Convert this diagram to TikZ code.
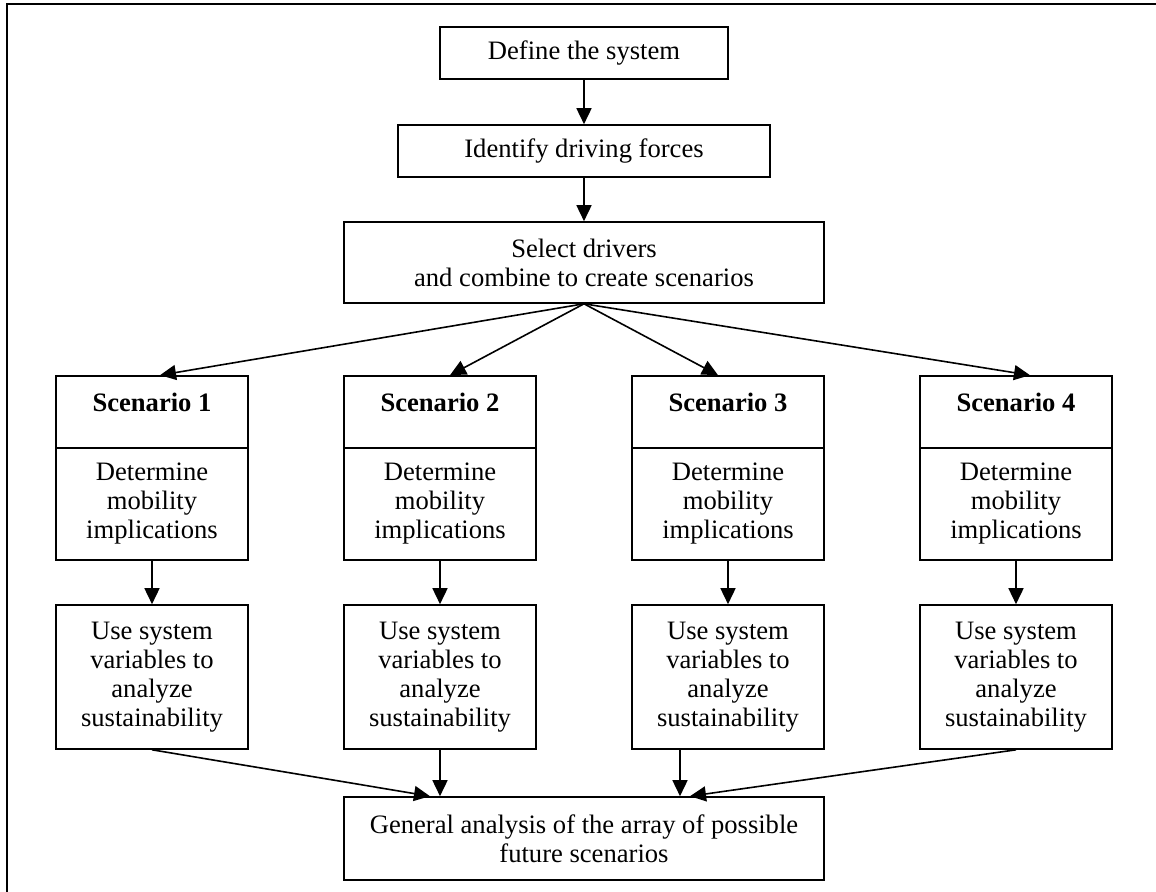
\documentclass[tikz,border=0pt]{standalone}
\usepackage{fontspec}
\setmainfont{Liberation Serif}
\usetikzlibrary{arrows.meta}

\begin{document}
\begin{tikzpicture}[x=0.5pt, y=-0.5pt,
    box/.style={draw, line width=0.8pt, align=center, inner sep=0pt,
      font=\fontsize{13.3}{14.5}\selectfont},
    flow/.style={-{Triangle[length=8pt,width=7.5pt]}, line width=0.8pt}]
			%%%%% START %%%%%
			
			\useasboundingbox (0,0) rectangle (1156,892);
			\draw[line width=1.1pt] (1156,4) -- (7,4) -- (7,892);
			
			\node[box, minimum width=144pt, minimum height=26pt] (define) at (584,53) {Define the system};
			\node[box, minimum width=186pt, minimum height=26pt] (identify) at (584,151) {Identify driving forces};
			\node[box, minimum width=240pt, minimum height=40.5pt] (select) at (584,262.5) {Select drivers\\and combine to create scenarios};
			
			\draw[flow] (define) -- (identify);
			\draw[flow] (identify) -- (select);
			
			\foreach \i/\dx in {1/4pt, 2/5pt, 3/-5pt, 4/7pt} {
				\pgfmathsetmacro\cx{152+288*(\i-1)}
				\node[box, minimum width=96pt, minimum height=36pt, text height=9pt, text depth=9pt, font=\fontsize{13.3}{14.5}\selectfont\bfseries] (scen\i) at (\cx,412) {Scenario \i};
				\node[box, minimum width=96pt, minimum height=56pt] (mob\i) at (\cx,504) {Determine\\mobility\\implications};
				\node[box, minimum width=96pt, minimum height=72pt] (use\i) at (\cx,677) {Use system\\variables to\\analyze\\sustainability};
				\draw[flow] (select.south) -- ([xshift=\dx]scen\i.north);
				\draw[flow] (mob\i) -- (use\i);
			}
			
			\node[box, minimum width=240pt, minimum height=41.5pt] (general) at (584,838.5) {General analysis of the array of possible\\future scenarios};
			
			\draw[flow] (use1.south) -- ([xshift=-77pt]general.north);
			\draw[flow] (use2.south) -- ([xshift=-72pt]general.north);
			\draw[flow] ([xshift=-24pt]use3.south) -- ([xshift=48pt]general.north);
			\draw[flow] (use4.south) -- ([xshift=53pt]general.north);
			
			%%%%% END %%%%%
\end{tikzpicture}
\end{document}
